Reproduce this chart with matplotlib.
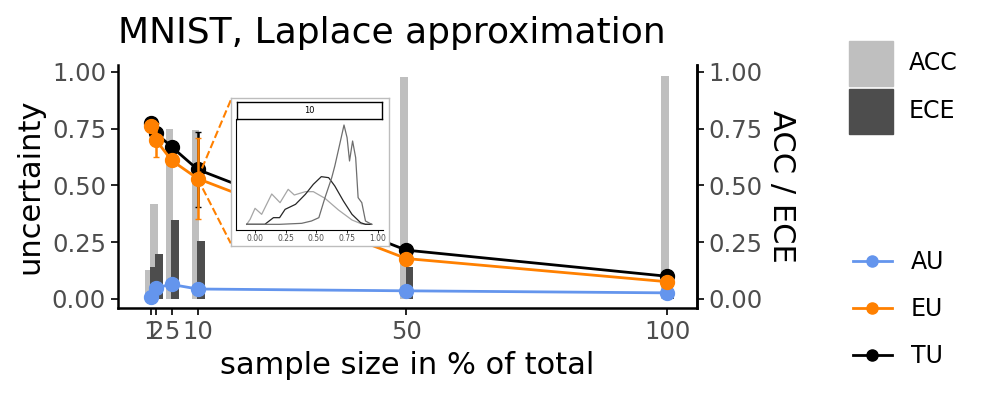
import matplotlib
matplotlib.use('Agg')
import matplotlib.pyplot as plt
from matplotlib.patches import Patch
from matplotlib.lines import Line2D

plt.rcParams['font.family'] = ['DejaVu Sans']

# sample size (% of total)
sizes = [1, 2, 5, 10, 50, 100]
tick_labels = ['1', '2', '5', '10', '50', '100']

# uncertainty means and errors
au = [0.01, 0.05, 0.064, 0.044, 0.036, 0.027]
au_err = [0.004, 0.004, 0.004, 0.004, 0.003, 0.003]
eu = [0.76, 0.70, 0.61, 0.53, 0.178, 0.076]
eu_err = [0.012, 0.075, 0.02, 0.18, 0.015, 0.01]
tu = [0.775, 0.73, 0.67, 0.57, 0.215, 0.10]
tu_err = [0.01, 0.02, 0.012, 0.165, 0.015, 0.01]

# accuracy / calibration error
acc = [0.127, 0.42, 0.75, 0.745, 0.976, 0.98]
ece = [0.139, 0.20, 0.346, 0.254, 0.141, 0.02]

# inset densities at 10 % (x grid, height)
dens_a_x = [-0.068, -0.04, 0.0, 0.054, 0.136, 0.204, 0.27, 0.32, 0.41, 0.475, 0.57, 0.68, 0.79, 0.87, 0.95]
dens_a_y = [0.0, 0.15, 0.48, 0.30, 0.91, 0.65, 1.05, 0.88, 0.98, 0.98, 0.78, 0.43, 0.13, 0.01, 0.0]
dens_b_x = [-0.068, 0.08, 0.15, 0.20, 0.245, 0.33, 0.41, 0.475, 0.54, 0.60, 0.65, 0.72, 0.79, 0.86, 0.90, 0.95]
dens_b_y = [0.0, 0.0, 0.20, 0.20, 0.45, 0.60, 0.90, 1.20, 1.43, 1.40, 1.15, 0.70, 0.30, 0.05, 0.0, 0.0]
dens_c_x = [-0.068, 0.20, 0.38, 0.46, 0.52, 0.57, 0.625, 0.65, 0.69, 0.725, 0.75, 0.77, 0.795, 0.82, 0.84, 0.87, 0.90, 0.95]
dens_c_y = [0.0, 0.0, 0.03, 0.10, 0.20, 0.80, 1.40, 1.75, 2.40, 2.98, 2.60, 1.90, 2.50, 2.00, 0.80, 0.65, 0.10, 0.0]

C_AU = '#6495ED'
C_EU = '#FF8000'
C_TU = 'black'
C_ACC = '#BFBFBF'
C_ECE = '#4D4D4D'
TICK_C = '#4D4D4D'

fig = plt.figure(figsize=(9.9, 3.96), dpi=100, facecolor='white')
ax = fig.add_axes([0.119, 0.222, 0.585, 0.614])

# bars: ACC then ECE slightly dodged
acc_pos = [s - 0.4 for s in sizes]
ece_pos = [s + 0.6 for s in sizes]
ax.bar(acc_pos, acc, width=1.5, color=C_ACC, zorder=1)
ax.bar(ece_pos, ece, width=1.5, color=C_ECE, zorder=1)

lw = 2
ms = 10
ax.errorbar(sizes, au, yerr=au_err, color=C_AU, lw=lw, marker='o', ms=ms, capsize=2.5, elinewidth=1.8, zorder=3)
ax.errorbar(sizes, tu, yerr=tu_err, color=C_TU, lw=lw, marker='o', ms=ms, capsize=2.5, elinewidth=1.8, zorder=3)
ax.errorbar(sizes, eu, yerr=eu_err, color=C_EU, lw=lw, marker='o', ms=ms, capsize=2.5, elinewidth=1.8, zorder=4)

ax.set_xlim(-5.3, 105.7)
ax.set_ylim(-0.04, 1.03)
ax.set_xticks(sizes)
ax.set_xticklabels(tick_labels)
ax.set_yticks([0, 0.25, 0.5, 0.75, 1.0])
ax.set_yticklabels(['0.00', '0.25', '0.50', '0.75', '1.00'])
ax.tick_params(labelsize=17.5, labelcolor=TICK_C, length=5, width=1.2, color='black')
for sp in ['left', 'bottom', 'right']:
    ax.spines[sp].set_linewidth(1.8)
ax.spines['top'].set_visible(False)
ax.set_xlabel('sample size in % of total', fontsize=22, labelpad=5)
ax.set_ylabel('uncertainty', fontsize=22, labelpad=5)
ax.set_title('MNIST, Laplace approximation', fontsize=26, loc='left', pad=16)

ax2 = ax.twinx()
ax2.set_ylim(ax.get_ylim())
ax2.set_yticks([0, 0.25, 0.5, 0.75, 1.0])
ax2.set_yticklabels(['0.00', '0.25', '0.50', '0.75', '1.00'])
ax2.tick_params(labelsize=17.5, labelcolor=TICK_C, length=5, width=1.2)
ax2.spines['right'].set_linewidth(1.8)
ax2.spines['top'].set_visible(False)
ax2.spines['left'].set_visible(False)
ax2.spines['bottom'].set_visible(False)
ax2.set_ylabel('ACC / ECE', fontsize=22, rotation=-90, labelpad=24)

# dashed connectors from the 10 % point to the inset
ax.plot([sizes[3], 16.35], [eu[3], 0.875], color=C_EU, ls='--', lw=1.5, zorder=5)
ax.plot([sizes[3], 16.35], [eu[3], 0.245], color=C_EU, ls='--', lw=1.5, zorder=5)

# inset: outer box, strip, panel
box = fig.add_axes([0.2333, 0.3788, 0.1596, 0.3737])
box.set_xticks([])
box.set_yticks([])
for sp in box.spines.values():
    sp.set_color('#BDBDBD')
    sp.set_linewidth(1)
box.set_zorder(5)

pan = fig.add_axes([0.2384, 0.4192, 0.1485, 0.2803])
pan.set_zorder(6)
pan.patch.set_alpha(0)
pan.plot(dens_a_x, dens_a_y, color='#A6A6A6', lw=0.9)
pan.plot(dens_b_x, dens_b_y, color='#262626', lw=0.9)
pan.plot(dens_c_x, dens_c_y, color='#6E6E6E', lw=0.9)
pan.set_xlim(-0.155, 1.043)
pan.set_ylim(-0.17, 3.16)
pan.set_xticks([0, 0.25, 0.5, 0.75, 1.0])
pan.set_xticklabels(['0.00', '0.25', '0.50', '0.75', '1.00'])
pan.set_yticks([])
pan.tick_params(labelsize=5.5, labelcolor=TICK_C, length=2, width=0.6, pad=1)
pan.spines['top'].set_visible(False)
pan.spines['right'].set_visible(False)
pan.spines['left'].set_linewidth(0.8)
pan.spines['bottom'].set_linewidth(0.8)

strip = fig.add_axes([0.2389, 0.7005, 0.1465, 0.0419])
strip.set_xticks([])
strip.set_yticks([])
for sp in strip.spines.values():
    sp.set_linewidth(1)
    sp.set_color('black')
strip.text(0.5, 0.5, '10', ha='center', va='center', fontsize=6, transform=strip.transAxes)
strip.set_zorder(7)

# legends
bar_handles = [Patch(color=C_ACC, label='ACC'), Patch(color=C_ECE, label='ECE')]
leg1 = fig.legend(handles=bar_handles, loc='upper left', bbox_to_anchor=(0.848, 0.921),
                  frameon=False, fontsize=17, handlelength=1.88, handleheight=2.55,
                  labelspacing=0.13, handletextpad=0.65, borderaxespad=0)
line_handles = [Line2D([], [], color=C_AU, lw=2, marker='o', ms=8, label='AU'),
                Line2D([], [], color=C_EU, lw=2, marker='o', ms=8, label='EU'),
                Line2D([], [], color=C_TU, lw=2, marker='o', ms=8, label='TU')]
leg2 = fig.legend(handles=line_handles, loc='upper left', bbox_to_anchor=(0.852, 0.393),
                  frameon=False, fontsize=17, handlelength=1.65, labelspacing=0.98,
                  handletextpad=0.8, borderaxespad=0)

fig.savefig('out.png', dpi=100, facecolor='white')
